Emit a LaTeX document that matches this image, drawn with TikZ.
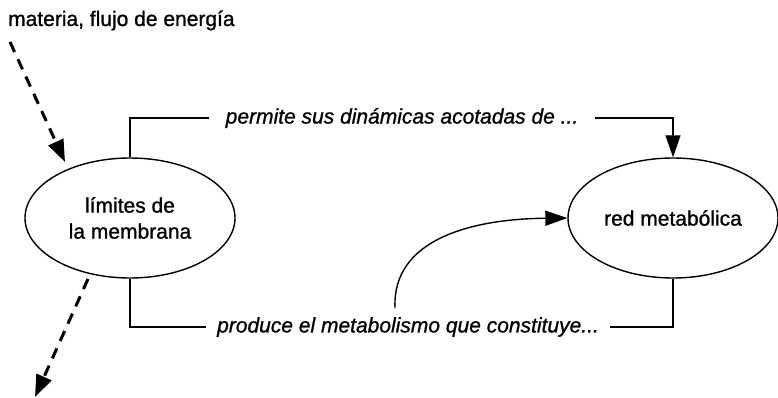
\documentclass[tikz,border=0pt]{standalone}
\usepackage{fontspec}
\setmainfont{Liberation Sans}[FakeBold=1.0]
\usetikzlibrary{arrows.meta,shapes.geometric}
\begin{document}
\begin{tikzpicture}[x=1pt,y=-1pt,
  every node/.style={font=\fontsize{21}{26}\selectfont},
  membr/.style={draw,ellipse,line width=1.4pt,minimum width=210pt,minimum height=120pt,inner sep=0pt,align=center},
  conn/.style={line width=1.4pt},
  tip/.style={-{Triangle[length=22pt,width=15pt]}},
  flow/.style={line width=3pt,dash pattern=on 11pt off 8pt,-{Triangle[length=22pt,width=16pt]}},
  lbl/.style={font=\fontsize{21}{26}\selectfont\itshape,inner ysep=0pt}]
\useasboundingbox (0,0) rectangle (778,398);
\node[anchor=base west,inner sep=0pt] (title) at (8,26) {materia, flujo de energía};
\node[membr] (L) at (130,218) {límites de\\la membrana};
\node[membr] (R) at (673,218) {red metabólica};
\node[lbl,inner xsep=17pt] (T) at (402,118) {permite sus dinámicas acotadas de ...};
\node[lbl,inner xsep=11pt] (B) at (408,327) {produce el metabolismo que constituye...};
\coordinate (fin) at (10,42);
\coordinate (finend) at (65,162);
\coordinate (fout) at (88,279);
\coordinate (foutend) at (35,397);
\coordinate (cstart) at (395,308);
\draw[flow] (fin) -- (finend);
\draw[flow] (fout) -- (foutend);
\draw[conn] (L.north) |- (T.west);
\draw[conn,tip] (T.east) -| (R.north);
\draw[conn] (R.south) |- (B.east);
\draw[conn] (B.west) -| (L.south);
\draw[conn,tip] (cstart) .. controls (392,240) and (470,219) .. (R.west);
\end{tikzpicture}
\end{document}
